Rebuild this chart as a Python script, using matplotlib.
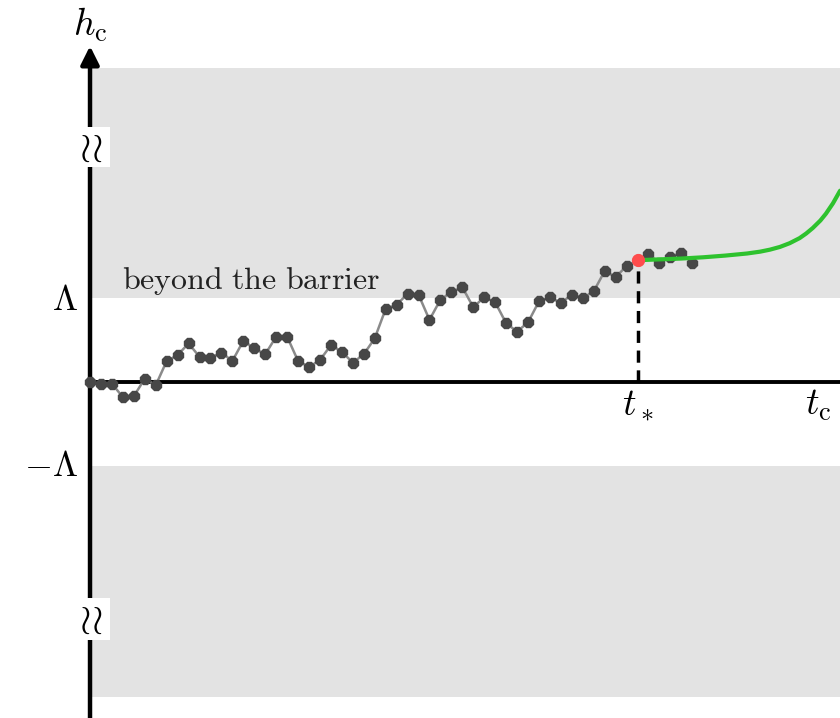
import matplotlib
matplotlib.use('Agg')
import matplotlib.pyplot as plt
from matplotlib.patches import Rectangle

plt.rcParams['mathtext.fontset'] = 'cm'

# path of h_c, one point per step (units of Lambda)
h_walk = [0.00, -0.02, -0.02, -0.18, -0.17, 0.04, -0.04, 0.25, 0.32, 0.46,
          0.30, 0.29, 0.35, 0.25, 0.49, 0.40, 0.33, 0.54, 0.54, 0.25,
          0.18, 0.26, 0.44, 0.36, 0.23, 0.33, 0.52, 0.87, 0.92, 1.05,
          1.04, 0.74, 0.98, 1.07, 1.13, 0.89, 1.01, 0.95, 0.70, 0.60,
          0.71, 0.96, 1.01, 0.94, 1.04, 1.00, 1.08, 1.32, 1.25, 1.38,
          1.45, 1.52, 1.42, 1.49, 1.54, 1.42]
t_walk = list(range(len(h_walk)))
t_star = 50

# runaway branch after t*
t_green = [50, 52, 54, 56, 58, 60.0, 61.2, 62.1, 63.0, 63.9, 64.8, 65.4,
           66.0, 66.7, 67.2, 67.85, 68.5]
h_green = [1.45, 1.46, 1.47, 1.485, 1.505, 1.53, 1.552, 1.576, 1.608, 1.653,
           1.713, 1.768, 1.833, 1.923, 2.003, 2.128, 2.278]

fig = plt.figure(figsize=(8.4, 7.18), dpi=100)
ax = fig.add_axes([0, 0, 1, 1])
ax.set_xlim(-8.22, 68.49)
ax.set_ylim(-4.0, 4.548)
ax.axis('off')

# shaded regions beyond +/- Lambda
ax.add_patch(Rectangle((0, 1.0), 80, 2.738, fc='#e3e3e3', ec='none', zorder=0))
ax.add_patch(Rectangle((0, -3.75), 80, 2.75, fc='#e3e3e3', ec='none', zorder=0))

# axes
ax.plot([0, 80], [0, 0], color='k', lw=2.8, zorder=2, solid_capstyle='butt')
ax.annotate('', xy=(0, 4.0), xytext=(0, -4.1),
            arrowprops=dict(arrowstyle='-|>,head_length=1.1,head_width=0.55',
                            lw=3.2, color='k', shrinkA=0, shrinkB=0), zorder=3)

# axis breaks
for yb, hb in [(2.56, 0.476), (-3.07, 0.5)]:
    ax.add_patch(Rectangle((-1.1, yb), 2.93, hb, fc='white', ec='none', zorder=4))
    ax.text(0.05, yb + hb / 2, r'$\wr\!\wr$', fontsize=30, ha='center', va='center', zorder=5)

# walk
ax.plot(t_walk, h_walk, color='#8a8a8a', lw=1.8, marker='8', ms=8.5,
        mfc='#474747', mec='#474747', zorder=3)
ax.plot(t_green, h_green, color='#2ec22e', lw=3, zorder=4,
        solid_capstyle='round', solid_joinstyle='round')
ax.plot([t_star], [h_walk[t_star]], 'o', ms=8.5, color='#ff4d4d', zorder=5)
ax.plot([t_star, t_star], [0, h_walk[t_star]], color='k', lw=2.5,
        dashes=(3.5, 2.2), zorder=2)

# labels
ax.text(0, 4.25, r'$h_{\rm c}$', fontsize=27, ha='center', va='center')
ax.text(-1.1, 0.98, r'$\Lambda$', fontsize=26, ha='right', va='center')
ax.text(-1.1, -1.0, r'$-\Lambda$', fontsize=26, ha='right', va='center')
ax.text(t_star, -0.27, r'$t_*$', fontsize=27, ha='center', va='center')
ax.text(65.3, -0.27, r'$t_{\rm c}$', fontsize=27, ha='left', va='center')
ax.text(2.9, 1.2, r'$\mathrm{beyond\ the\ barrier}$', fontsize=23, ha='left', va='center',
        color='#222222')

fig.savefig('out.png', dpi=100)
